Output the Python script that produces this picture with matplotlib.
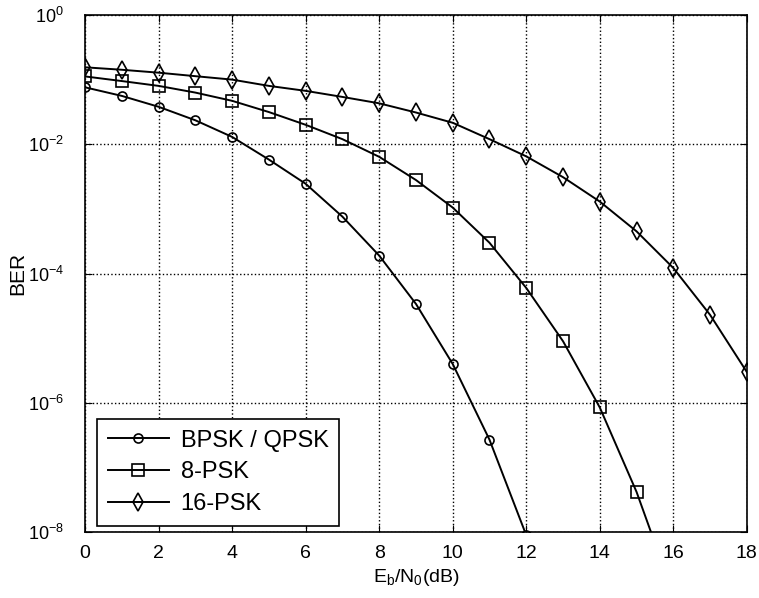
import matplotlib.pyplot as plt
from matplotlib.ticker import FixedLocator, NullLocator

plt.rcParams['font.family'] = ['Liberation Sans', 'DejaVu Sans']
plt.rcParams['mathtext.fontset'] = 'custom'
plt.rcParams['mathtext.rm'] = 'Liberation Sans'
plt.rcParams['mathtext.it'] = 'Liberation Sans'

# Eb/N0 (dB) and BER values
ebno_bpsk = [0, 1, 2, 3, 4, 5, 6, 7, 8, 9, 10, 11, 12]
ber_bpsk = [7.6e-2, 5.6e-2, 3.8e-2, 2.35e-2, 1.3e-2, 5.8e-3, 2.45e-3,
            7.6e-4, 1.9e-4, 3.4e-5, 4.0e-6, 2.7e-7, 9e-9]

ebno_8psk = [0, 1, 2, 3, 4, 5, 6, 7, 8, 9, 10, 11, 12, 13, 14, 15, 16]
ber_8psk = [1.12e-1, 9.5e-2, 8.0e-2, 6.3e-2, 4.7e-2, 3.15e-2, 2.0e-2,
            1.2e-2, 6.4e-3, 2.8e-3, 1.05e-3, 3.0e-4, 6.0e-5, 9.0e-6,
            8.5e-7, 4.2e-8, 1.1e-9]

ebno_16psk = list(range(19))
ber_16psk = [1.55e-1, 1.42e-1, 1.28e-1, 1.13e-1, 1.0e-1, 8.0e-2, 6.7e-2,
             5.4e-2, 4.3e-2, 3.1e-2, 2.15e-2, 1.2e-2, 6.5e-3, 3.1e-3,
             1.3e-3, 4.5e-4, 1.22e-4, 2.3e-5, 3.0e-6]

labels = ['BPSK / QPSK', '8-PSK', '16-PSK']

fig = plt.figure(figsize=(7.59, 5.98), dpi=100)
ax = fig.add_axes([0.112, 0.11, 0.872, 0.865])

ax.semilogy(ebno_bpsk, ber_bpsk, 'k-', marker='o', ms=6.5, mfc='none',
            mew=1.2, lw=1.4, label=labels[0])
ax.semilogy(ebno_8psk, ber_8psk, 'k-', marker='s', ms=9, mfc='none',
            mew=1.2, lw=1.4, label=labels[1])
ax.semilogy(ebno_16psk, ber_16psk, 'k-', marker='d', ms=9, mfc='none',
            mew=1.2, lw=1.4, label=labels[2])

ax.set_xlim(0, 18)
ax.set_ylim(1e-8, 1e0)
ax.set_xticks(range(0, 19, 2))
ax.yaxis.set_major_locator(FixedLocator([1e0, 1e-2, 1e-4, 1e-6, 1e-8]))
ax.yaxis.set_minor_locator(NullLocator())
ax.tick_params(direction='in', labelsize=14, length=5, top=True, right=True)
ax.tick_params(axis='y', pad=15, labelsize=13)
ax.tick_params(axis='x', pad=9)
ax.grid(True, color='k', linestyle=':', linewidth=1.0)

ax.set_xlabel(r'E$_\mathregular{b}$/N$_\mathregular{0}$(dB)', fontsize=14, labelpad=4)
ax.set_ylabel('BER', fontsize=15)
ax.yaxis.set_label_coords(-0.087, 0.5)

leg = ax.legend(loc='lower left', bbox_to_anchor=(0.018, 0.012),
                fontsize=17, handlelength=2.6,
                fancybox=False, edgecolor='k', framealpha=1,
                borderaxespad=0, labelspacing=0.42, borderpad=0.45,
                handletextpad=0.5)
leg.get_frame().set_linewidth(1.2)

for s in ax.spines.values():
    s.set_linewidth(1.2)

fig.savefig('out.png', dpi=100)
